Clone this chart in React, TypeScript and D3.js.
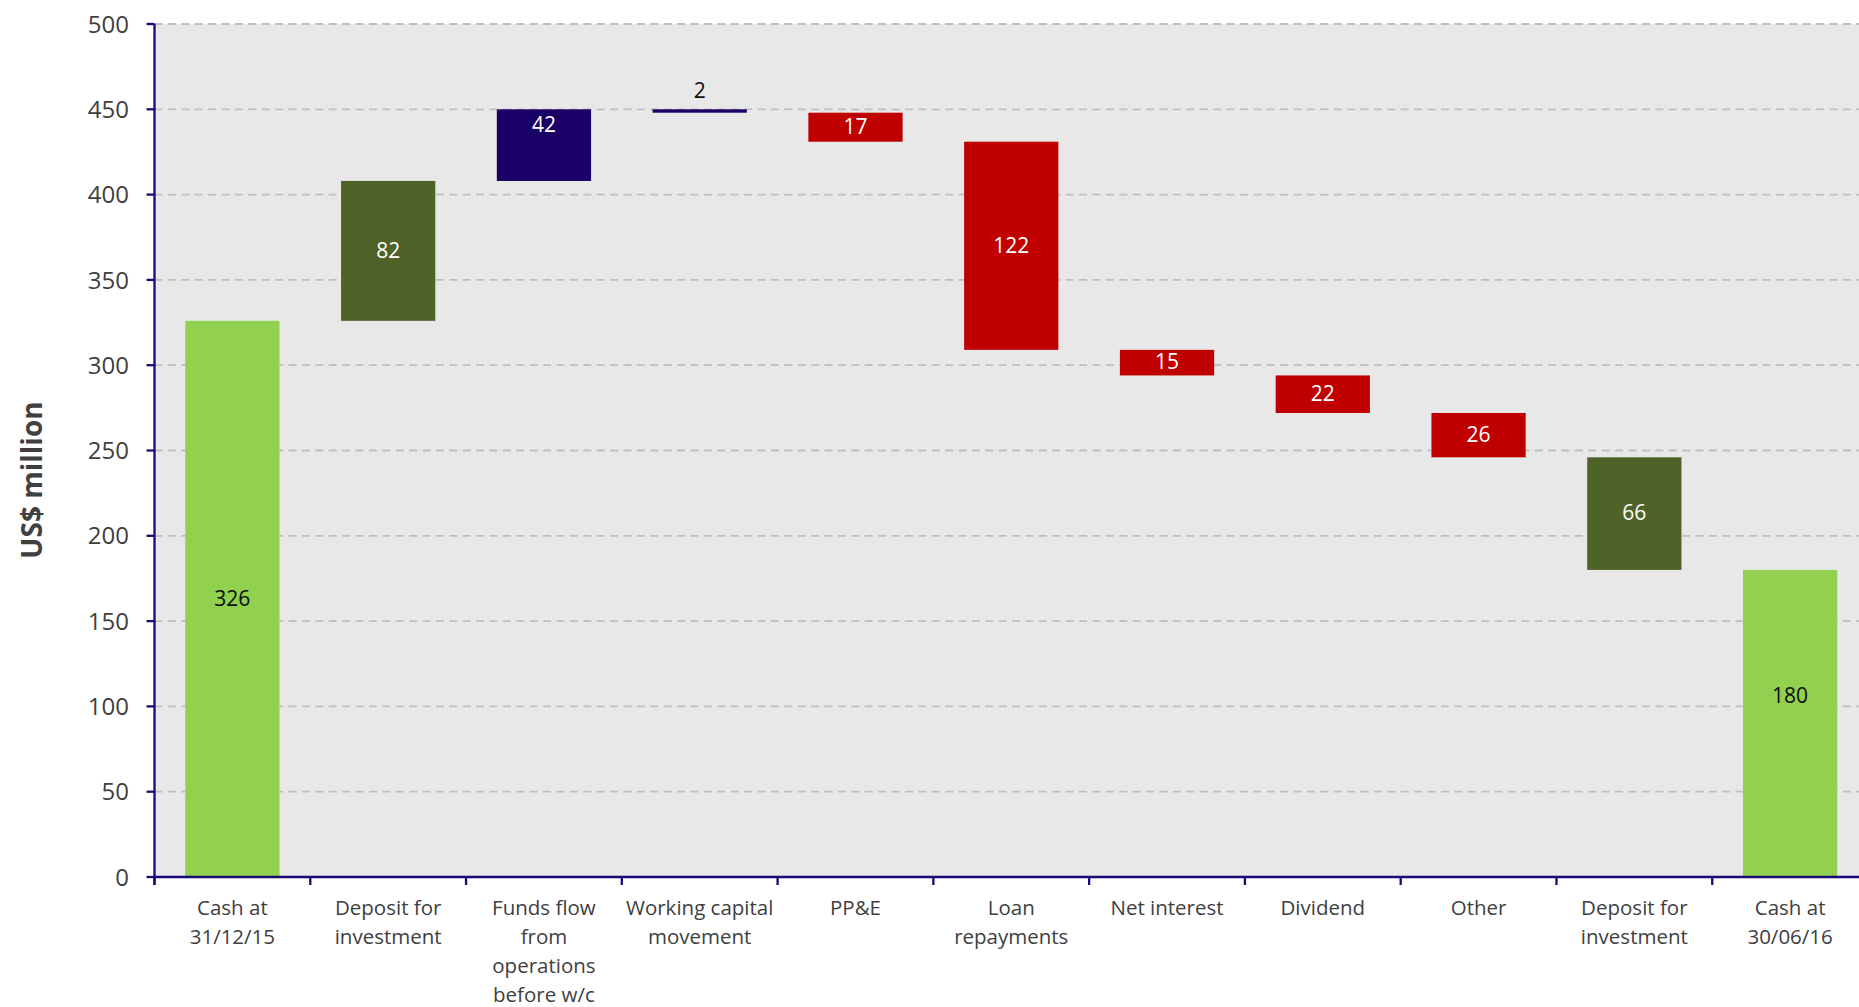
import React from "react";
import * as d3 from "d3";

// Cash movement waterfall, first half 2016 (US$ million)
const categories: string[][] = [
  ["Cash at", "31/12/15"],
  ["Deposit for", "investment"],
  ["Funds flow", "from", "operations", "before w/c"],
  ["Working capital", "movement"],
  ["PP&E"],
  ["Loan", "repayments"],
  ["Net interest"],
  ["Dividend"],
  ["Other"],
  ["Deposit for", "investment"],
  ["Cash at", "30/06/16"],
];
const changes: number[] = [326, 82, 42, -2, -17, -122, -15, -22, -26, -66, 180];
const kinds: string[] = [
  "total", "deposit", "operations", "operations", "outflow", "outflow",
  "outflow", "outflow", "outflow", "deposit", "total",
];
const yTicks: number[] = [0, 50, 100, 150, 200, 250, 300, 350, 400, 450, 500];

const fillByKind: Record<string, string> = {
  total: "#92D050",
  deposit: "#4F6228",
  operations: "#1A0066",
  outflow: "#C00000",
};
const labelFillByKind: Record<string, string> = {
  total: "#0d0d0d",
  deposit: "#ffffff",
  operations: "#ffffff",
  outflow: "#ffffff",
};

const W = 1859;
const H = 1007;
const left = 154.5;
const top = 24;
const bottom = 877;
const right = 1868;
const axisColor = "#1A0A78";
const textColor = "#404040";
const font = "'Open Sans', 'DejaVu Sans', sans-serif";

export default function App() {
  const x = d3
    .scaleBand<number>()
    .domain(d3.range(categories.length))
    .range([left, right])
    .paddingInner(0)
    .paddingOuter(0);
  const y = d3.scaleLinear().domain([0, 500]).range([bottom, top]);
  const barW = x.bandwidth() * 0.605;

  // running waterfall segments
  let running = 0;
  const segs = changes.map((v, i) => {
    let from: number, to: number;
    if (kinds[i] === "total") {
      from = 0;
      to = v;
      running = v;
    } else {
      from = running;
      to = running + v;
      running = to;
    }
    return { i, v, lo: Math.min(from, to), hi: Math.max(from, to), kind: kinds[i] };
  });

  const boundaries = d3.range(categories.length + 1).map((k) => left + k * x.step());

  return (
    <div style={{ position: "absolute", left: 0, top: 0, width: W, height: H, overflow: "hidden", background: "#fff" }}>
      <svg width={W} height={H} style={{ display: "block" }} fontFamily={font}>
        {/* plot background */}
        <rect x={left} y={top} width={right - left} height={bottom - top} fill="#E8E8E8" />
        {/* gridlines */}
        {yTicks
          .filter((t) => t > 0)
          .map((t) => (
            <line
              key={"g" + t}
              x1={left}
              x2={right}
              y1={y(t)}
              y2={y(t)}
              stroke="#BFBFBF"
              strokeWidth={1.8}
              strokeDasharray="8,5.4"
            />
          ))}
        {/* bars */}
        {segs.map((s) => {
          const cx = (x(s.i) as number) + x.bandwidth() / 2;
          const h = Math.max(y(s.lo) - y(s.hi), 1);
          return (
            <rect
              key={"b" + s.i}
              x={cx - barW / 2}
              y={y(s.hi)}
              width={barW}
              height={h}
              fill={fillByKind[s.kind]}
            />
          );
        })}
        {/* value labels */}
        {segs.map((s) => {
          const cx = (x(s.i) as number) + x.bandwidth() / 2;
          const thin = y(s.lo) - y(s.hi) < 20;
          let cy = (y(s.lo) + y(s.hi)) / 2;
          if (s.i === 2) cy = y(s.hi) + 16;
          if (s.i === 10) cy -= 27;
          if (thin && s.kind === "operations") cy = y(s.hi) - 18;
          const fill = thin && s.kind === "operations" ? "#0d0d0d" : labelFillByKind[s.kind];
          return (
            <text
              key={"v" + s.i}
              x={cx}
              y={cy}
              dy="0.32em"
              textAnchor="middle"
              fontSize={21}
              fill={fill}
            >
              {Math.abs(s.v)}
            </text>
          );
        })}
        {/* y axis */}
        <line x1={left} x2={left} y1={top} y2={bottom + 8} stroke={axisColor} strokeWidth={2.3} />
        {yTicks.map((t) => (
          <g key={"t" + t}>
            <line x1={left - 8} x2={left} y1={y(t)} y2={y(t)} stroke={axisColor} strokeWidth={2.3} />
            <text x={129} y={y(t)} dy="0.36em" textAnchor="end" fontSize={24} fill={textColor}>
              {t}
            </text>
          </g>
        ))}
        {/* x axis */}
        <line x1={left} x2={right} y1={bottom} y2={bottom} stroke={axisColor} strokeWidth={2.3} />
        {boundaries.map((bx, k) => (
          <line key={"xt" + k} x1={bx} x2={bx} y1={bottom} y2={bottom + 8} stroke={axisColor} strokeWidth={2.3} />
        ))}
        {categories.map((lines, i) => {
          const cx = (x(i) as number) + x.bandwidth() / 2;
          return (
            <text key={"c" + i} textAnchor="middle" fontSize={20.5} fill={textColor}>
              {lines.map((ln, j) => (
                <tspan key={j} x={cx} y={915 + j * 29}>
                  {ln}
                </tspan>
              ))}
            </text>
          );
        })}
        {/* y axis title */}
        <text
          transform={`translate(32,480) rotate(-90)`}
          textAnchor="middle"
          dy="0.35em"
          fontSize={28}
          fontWeight="bold"
          fill={textColor}
        >
          US$ million
        </text>
      </svg>
    </div>
  );
}
